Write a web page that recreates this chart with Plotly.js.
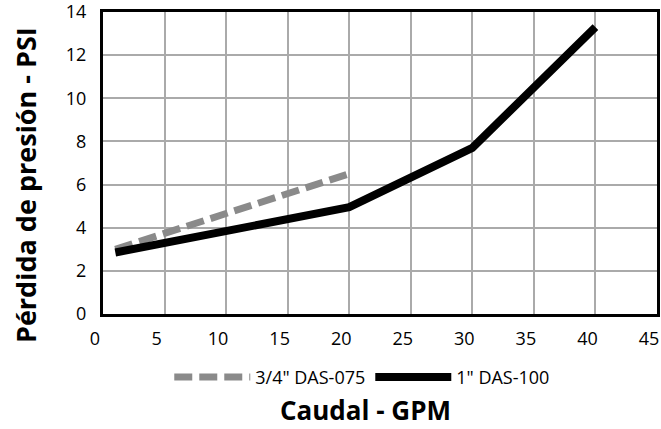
<!DOCTYPE html>
<html><head><meta charset="utf-8">
<script src="https://cdn.plot.ly/plotly-3.0.1.min.js"></script>
<style>html,body{margin:0;padding:0;background:#fff;overflow:hidden}#c{width:661px;height:429px}</style>
</head><body><div id="c"></div>
<script>
const flow075 = [1, 20];
const psi075 = [3.0, 6.5];
const flow100 = [1, 20, 30, 40];
const psi100 = [2.85, 4.95, 7.7, 13.3];
const name075 = '3/4" DAS-075';
const name100 = '1" DAS-100';
const xTicks = [0,5,10,15,20,25,30,35,40,45];
const yTicks = [0,2,4,6,8,10,12,14];
const xTitle = 'Caudal - GPM';
const yTitle = 'Pérdida de presión - PSI';

const fontFam = 'Open Sans';
const traces = [
  {x: flow075, y: psi075, name: name075, mode: 'lines', type: 'scatter',
   line: {color: '#8a8a8a', width: 7, dash: '18px,7px'}},
  {x: flow100, y: psi100, name: name100, mode: 'lines', type: 'scatter',
   line: {color: '#000000', width: 8}}
];
const layout = {
  width: 661, height: 429,
  margin: {l: 103, r: 4, t: 12, b: 115},
  paper_bgcolor: '#fff', plot_bgcolor: '#fff',
  font: {family: fontFam, color: '#000', size: 18},
  showlegend: true,
  legend: {orientation: 'h', x: 0.468, xanchor: 'center', y: -0.21, yanchor: 'middle',
           font: {size: 18}, itemwidth: 76},
  xaxis: {range: [0, 45], tickmode: 'array', tickvals: xTicks, ticktext: xTicks.map(String),
          showgrid: true, gridcolor: '#aaaaaa', gridwidth: 1.5,
          showline: true, linecolor: '#000', linewidth: 3, mirror: true,
          zeroline: false, ticks: '', ticklabelshift: -8, ticklabelstandoff: 6,
          ticklabeloverflow: 'allow', tickfont: {size: 18}},
  yaxis: {range: [0, 14], tickmode: 'array', tickvals: yTicks, ticktext: yTicks.map(String),
          showgrid: true, gridcolor: '#aaaaaa', gridwidth: 1.5,
          showline: true, linecolor: '#000', linewidth: 3, mirror: true,
          zeroline: false, ticks: '', ticklabelstandoff: 10,
          ticklabeloverflow: 'allow', tickfont: {size: 18}},
  annotations: [
    {text: '<b>' + xTitle + '</b>', xref: 'paper', yref: 'paper', x: 0.4747, y: -0.3805,
     xanchor: 'center', yanchor: 'bottom', showarrow: false, font: {size: 26}, borderpad: 0},
    {text: '<b>' + yTitle + '</b>', xref: 'paper', yref: 'paper', x: -0.1408, y: 0.427,
     xanchor: 'center', yanchor: 'middle', textangle: -90, showarrow: false, font: {size: 27}}
  ]
};
Plotly.newPlot('c', traces, layout, {displayModeBar: false});
</script>
</body></html>
